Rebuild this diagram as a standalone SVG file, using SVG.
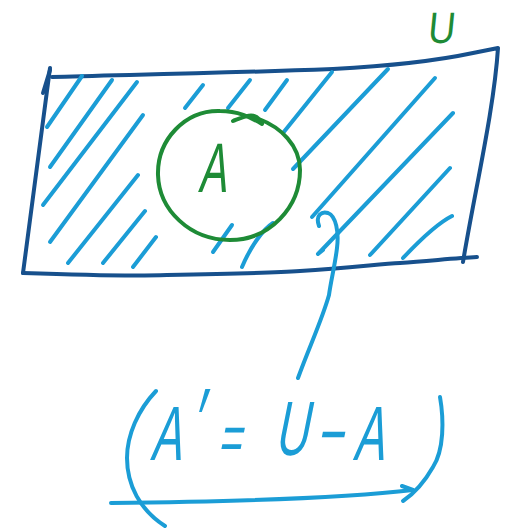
<svg xmlns="http://www.w3.org/2000/svg" width="508" height="528" viewBox="0 0 508 528">
<style>
.rect{fill:none;stroke:#17508c;stroke-width:4;stroke-linecap:round;stroke-linejoin:round}
.hatch{fill:none;stroke:#1b9dd6;stroke-width:4;stroke-linecap:round;stroke-linejoin:round}
.green{fill:none;stroke:#1e8b36;stroke-width:4;stroke-linecap:round;stroke-linejoin:round}
.gtxt{fill:#1e8b36;font-family:"Liberation Sans",Arial,sans-serif}
.btxt{fill:#1b9dd6;font-family:"Liberation Sans",Arial,sans-serif}
</style>
<rect width="508" height="528" fill="#ffffff"/>
<g id="universe">
<path class="rect" d="M52,77 C110,75 200,74 333,69 C390,66 440,60 473,53 L498,48 C494,110 475,190 463,262"/>
<path class="rect" d="M50,68 L23,273"/>
<path class="rect" d="M50,70 L43,93"/>
<path class="rect" d="M23,273 C80,275 140,276 167,275 C220,274 270,273 300,271 C350,268 380,264 400,263 C430,261 455,258 477,257"/>
<g id="hatching">
<path class="hatch" d="M82,76 L47,127"/>
<path class="hatch" d="M112,80 L50,167"/>
<path class="hatch" d="M137,82 L43,205"/>
<path class="hatch" d="M143,115 L50,242"/>
<path class="hatch" d="M138,175 L68,263"/>
<path class="hatch" d="M145,211 L103,263"/>
<path class="hatch" d="M156,237 L133,267"/>
<path class="hatch" d="M203,85 L185,108"/>
<path class="hatch" d="M250,80 L228,108"/>
<path class="hatch" d="M287,80 L265,110"/>
<path class="hatch" d="M332,72 L283,133"/>
<path class="hatch" d="M388,69 L293,169"/>
<path class="hatch" d="M435,78 L312,217"/>
<path class="hatch" d="M453,113 L318,254 L323,250"/>
<path class="hatch" d="M450,168 L370,255"/>
<path class="hatch" d="M452,216 C440,222 420,240 403,258"/>
<path class="hatch" d="M232,225 L213,252"/>
<path class="hatch" d="M273,223 C262,230 250,248 242,267"/>
</g>
</g>
<g id="label-U">
<text class="gtxt" font-size="44" transform="translate(427,43) matrix(0.85,0,-0.1,1,0,0)" x="0" y="0">U</text>
</g>
<g id="set-A">
<path class="green" d="M233,121 C243,117 253,112 259,119 C280,127 300,145 300,170 C300,207 270,240 230,240 C190,240 159,210 158,175 C157,140 185,110 220,111 C238,111 250,117 262,124"/>
<text class="gtxt" font-size="70" transform="translate(198,192) matrix(0.6,0,-0.16,1,0,0)" x="0" y="0">A</text>
</g>
<g id="connectors">
<path class="hatch" d="M319,226 C315,215 322,211 328,213 C336,216 339,232 337,248 C335,265 331,280 329,295 C322,320 310,345 298,378"/>
</g>
<g id="formula">
<path class="hatch" d="M156,391 C138,410 127,435 127,458 C127,485 140,510 165,526"/>
<path class="hatch" d="M440,397 C444,420 444,450 433,467 C425,481 415,493 403,501"/>
<path class="hatch" d="M111,503 C200,502 330,500 413,490 M402,486 L413,490"/>
<text class="btxt" font-size="77" transform="translate(0,460) matrix(0.6,0,-0.2,1,0,0)"><tspan x="250" y="0">A</tspan><tspan x="312" y="-9" font-size="90">′</tspan><tspan x="352" y="0" font-size="66"> </tspan><tspan x="362" y="0" font-size="66">=</tspan><tspan x="420" y="0"> </tspan><tspan x="455" y="-5">U</tspan><tspan x="510" y="0"> </tspan><tspan x="525" y="0">−</tspan><tspan x="580" y="0"> </tspan><tspan x="588" y="0">A</tspan></text>
</g>
</svg>
